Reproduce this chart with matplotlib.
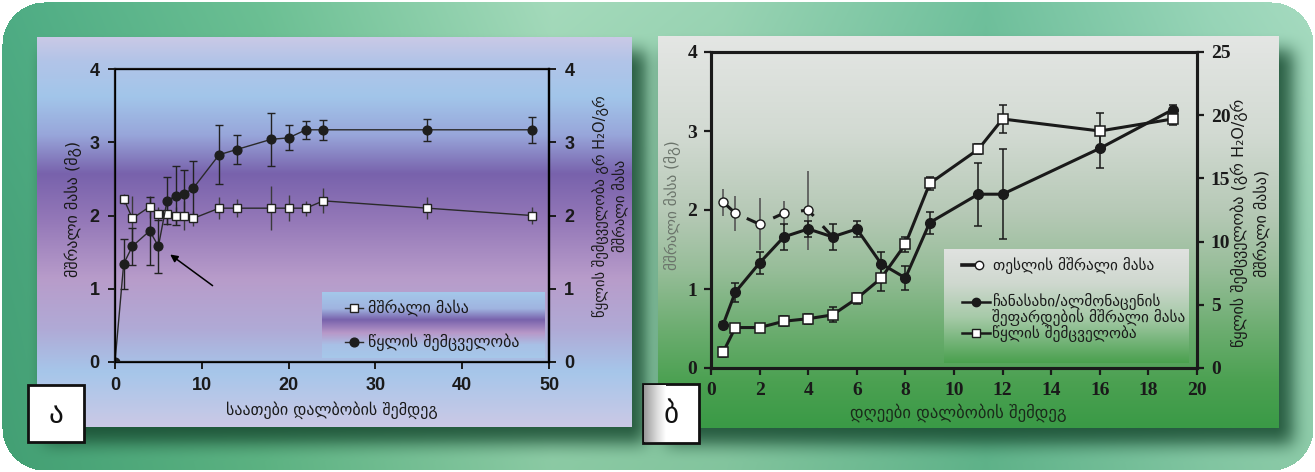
import numpy as np
import matplotlib
matplotlib.use("Agg")
import matplotlib.pyplot as plt
from matplotlib.colors import to_rgb
from matplotlib.patches import Rectangle

# ---------------- data ----------------
# panel ა (hours after imbibition)
a_dry_x = [1, 2, 4, 5, 6, 7, 8, 9, 12, 14, 18, 20, 22, 24, 36, 48]
a_dry_y = [2.23, 1.96, 2.12, 2.02, 2.02, 2.00, 2.00, 1.96, 2.10, 2.10, 2.10, 2.10, 2.10, 2.20, 2.10, 2.00]
a_dry_err = [0.07, 0.30, 0.15, 0.10, 0.15, 0.12, 0.20, 0.10, 0.15, 0.12, 0.30, 0.18, 0.10, 0.17, 0.15, 0.12]
a_wat_x = [0, 1, 2, 4, 5, 6, 7, 8, 9, 12, 14, 18, 20, 22, 24, 36, 48]
a_wat_y = [0, 1.34, 1.58, 1.79, 1.58, 2.20, 2.27, 2.30, 2.37, 2.83, 2.90, 3.04, 3.06, 3.17, 3.17, 3.17, 3.17]
a_wat_err = [0, 0.34, 0.25, 0.46, 0.36, 0.32, 0.40, 0.32, 0.37, 0.40, 0.20, 0.36, 0.17, 0.12, 0.14, 0.15, 0.18]
a_xticks = [0, 10, 20, 30, 40, 50]
a_yticks = [0, 1, 2, 3, 4]

# panel ბ (days after imbibition)
b_seed_x = [0.5, 1, 2, 3, 4, 5]
b_seed_y = [2.10, 1.96, 1.82, 1.96, 2.00, 1.66]
b_seed_err = [0.17, 0.22, 0.33, 0.16, 0.50, 0.0]
b_x = [0.5, 1, 2, 3, 4, 5, 6, 7, 8, 9, 11, 12, 16, 19]
b_ratio_y = [0.55, 0.96, 1.33, 1.66, 1.76, 1.66, 1.76, 1.32, 1.14, 1.84, 2.20, 2.20, 2.78, 3.27]
b_ratio_err = [0.03, 0.12, 0.14, 0.16, 0.10, 0.16, 0.10, 0.15, 0.15, 0.14, 0.40, 0.57, 0.25, 0.06]
b_wat_y = [1.25, 3.2, 3.2, 3.7, 3.9, 4.2, 5.5, 7.1, 9.8, 14.6, 17.3, 19.7, 18.75, 19.7]
b_wat_err = [0.4, 0.2, 0.2, 0.4, 0.4, 0.6, 0.45, 1.0, 0.6, 0.5, 0.4, 1.1, 1.4, 0.5]
b_xticks = list(range(0, 21, 2))
b_yticks = [0, 1, 2, 3, 4]
b_y2ticks = [0, 5, 10, 15, 20, 25]

# text
a_ylabel = "მშრალი მასა (მგ)"
a_y2label = "წყლის შემცველობა გრ H₂O/გრ\nმშრალი მასა"
a_xlabel = "საათები დალბობის შემდეგ"
a_leg = ["მშრალი მასა", "წყლის შემცველობა"]
b_ylabel = "მშრალი მასა (მგ)"
b_y2label = "წყლის შემცველობა (გრ H₂O/გრ\nმშრალი მასა)"
b_xlabel = "დღეები დალბობის შემდეგ"
b_leg = ["თესლის მშრალი მასა", "ჩანასახი/ალმონაცენის", "შეფარდების მშრალი მასა", "წყლის შემცველობა"]

W, H = 1315, 472
GEO = ['DejaVu Sans']

fig = plt.figure(figsize=(W / 100, H / 100), dpi=100)
fig.patch.set_facecolor('white')


def fx(px):
    return px / W


def fy(py):
    return 1 - py / H


def grad(stops, n):
    pos = [p for p, _ in stops]
    cols = np.array([to_rgb(c) for _, c in stops])
    t = np.linspace(0, 1, n)
    return np.stack([np.interp(t, pos, cols[:, i]) for i in range(3)], axis=-1)


def box_blur(a, r):
    k = 2 * r + 1
    p = np.pad(a, ((r + 1, r), (0, 0)), mode='edge')
    c = np.cumsum(p, axis=0)
    a = (c[k:] - c[:-k]) / k
    p = np.pad(a, ((0, 0), (r + 1, r)), mode='edge')
    c = np.cumsum(p, axis=1)
    return (c[:, k:] - c[:, :-k]) / k


# ---------------- outer background ----------------
hx = grad([(0, '#4eac84'), (0.2, '#6cc094'), (0.42, '#a4dabb'), (0.55, '#9ad4b4'),
           (0.75, '#6fc09c'), (0.92, '#98d5b8'), (1, '#a6dbc0')], W)
vy = grad([(0, '#ffffff'), (0.5, '#e8f2ec'), (1, '#d8ecdf')], H)
base = hx[None, :, :] * vy[:, None, :]
mask = np.zeros((H, W))
for (x0, x1, y0, y1) in [(37, 632, 37, 427), (658, 1279, 36, 428)]:
    mask[y0 + 14:y1 + 16, x0 + 8:x1 + 14] = 1
mask = box_blur(box_blur(mask, 9), 9)
dark = np.array(to_rgb('#174a30'))
img = base * (1 - 0.85 * mask[..., None]) + dark * 0.85 * mask[..., None]
# rounded frame corners
yy, xx = np.mgrid[0:H, 0:W]
R = 42
inside = np.ones((H, W), bool)
for cx, cy, sx, sy in [(R + 2, R + 2, -1, -1), (W - R - 2, R + 2, 1, -1),
                       (R + 2, H - R - 2, -1, 1), (W - R - 2, H - R - 2, 1, 1)]:
    reg = ((xx - cx) * sx > 0) & ((yy - cy) * sy > 0)
    inside &= ~(reg & ((xx - cx) ** 2 + (yy - cy) ** 2 > R ** 2))
inside &= (xx >= 2) & (xx <= W - 3) & (yy >= 2) & (yy <= H - 3)
img[~inside] = 1.0
bg = fig.add_axes([0, 0, 1, 1], zorder=0)
bg.imshow(img, extent=(0, W, H, 0), aspect='auto', interpolation='bilinear')
bg.set_xlim(0, W)
bg.set_ylim(H, 0)
bg.axis('off')


def panel_bg(x0, x1, y0, y1, stops, z=1):
    axb = fig.add_axes([fx(x0), fy(y1), fx(x1 - x0), (y1 - y0) / H], zorder=z)
    g = grad(stops, 256)
    axb.imshow(g[:, None, :], extent=(0, 1, 0, 1), aspect='auto', interpolation='bilinear')
    axb.set_xlim(0, 1)
    axb.set_ylim(0, 1)
    axb.axis('off')
    return axb


panel_bg(37, 632, 37, 427, [(0, '#c9c9e6'), (0.06, '#b2c4e8'), (0.15, '#a2c6ea'),
                            (0.25, '#98a6da'), (0.35, '#7862ac'), (0.47, '#9478b8'),
                            (0.62, '#b89cca'), (0.75, '#b0aad6'), (0.86, '#a6c6ea'),
                            (1.0, '#cbc9e6')])
panel_bg(658, 1279, 36, 428, [(0, '#e4e6e4'), (0.25, '#d2dad2'), (0.45, '#b6c9b6'),
                              (0.6, '#96bd98'), (0.75, '#6cad70'), (0.88, '#4ca152'),
                              (1.0, '#3a9a46')])

# ---------------- panel ა ----------------
ax = fig.add_axes([fx(115), fy(362), fx(549 - 115), (362 - 69) / H], zorder=3)
ax.patch.set_alpha(0)
ax.set_xlim(0, 50)
ax.set_ylim(0, 4)
lc = '#2a2a2a'
ax.errorbar(a_dry_x, a_dry_y, yerr=a_dry_err, fmt='none', ecolor='#3a3a3a', elinewidth=1.0,
            capsize=0, zorder=2)
ax.errorbar(a_wat_x, a_wat_y, yerr=a_wat_err, fmt='none', ecolor='#222222', elinewidth=1.0,
            capsize=3, capthick=1.0, zorder=2)
ax.plot(a_dry_x, a_dry_y, '-', color=lc, lw=1.0, marker='s', ms=5.6, mfc='white',
        mec='#222222', mew=1.0, zorder=4)
ax.plot(a_wat_x, a_wat_y, '-', color=lc, lw=1.0, marker='o', ms=6.3, mfc='#1e1e1e',
        mec='#1e1e1e', zorder=5)
ax.annotate('', xy=(6.1, 1.49), xytext=(11.5, 1.02),
            arrowprops=dict(arrowstyle='-|>', color='black', lw=1.1, mutation_scale=11))
ax.set_xticks(a_xticks)
ax.set_yticks(a_yticks)
for s in ax.spines.values():
    s.set_linewidth(1.6)
    s.set_color('#1a1a1a')
ax.tick_params(direction='out', length=5, width=1.4, color='#1a1a1a', pad=6)
for lab in ax.get_xticklabels() + ax.get_yticklabels():
    lab.set_fontfamily('Liberation Sans')
    lab.set_fontweight('bold')
    lab.set_fontsize(13)
    lab.set_color('#1a1a1a')
ax2 = ax.twinx()
ax2.set_ylim(0, 4)
ax2.set_yticks(a_yticks)
ax2.spines['right'].set_linewidth(1.6)
ax2.tick_params(direction='out', length=5, width=1.4, color='#1a1a1a', pad=6)
for lab in ax2.get_yticklabels():
    lab.set_fontfamily('Liberation Sans')
    lab.set_fontweight('bold')
    lab.set_fontsize(13)
    lab.set_color('#1a1a1a')

# legend ა
la = panel_bg(322, 545, 292, 358, [(0, '#a4c8ea'), (0.25, '#a0b4e0'), (0.42, '#7862ac'),
                                  (0.62, '#b898c8'), (0.8, '#a8c0e6'), (1.0, '#a6c8ea')], z=4)
lg = fig.add_axes(la.get_position(), zorder=5)
lg.patch.set_alpha(0)
lg.set_xlim(322, 545)
lg.set_ylim(358, 292)
lg.axis('off')
lg.plot([345, 363], [308, 308], '-', color=lc, lw=1.0)
lg.plot([354], [308], marker='s', ms=5.6, mfc='white', mec='#222222', mew=1.0)
lg.plot([345, 363], [342, 342], '-', color=lc, lw=1.0)
lg.plot([354], [342], marker='o', ms=6.3, mfc='#1e1e1e', mec='#1e1e1e')
lg.text(368, 308, a_leg[0], family=GEO, fontsize=11.5, va='center', ha='left', color='#1a1a1a')
lg.text(368, 342, a_leg[1], family=GEO, fontsize=11.5, va='center', ha='left', color='#1a1a1a')

fig.text(fx(73), fy(209), a_ylabel, family=GEO, fontsize=11.5, rotation=90,
         ha='center', va='center', color='#1a1a1a')
fig.text(fx(610), fy(206), a_y2label, family=GEO, fontsize=10.5, rotation=90,
         ha='center', va='center', multialignment='center', color='#1a1a1a',
         linespacing=1.25)
fig.text(fx(332), fy(410), a_xlabel, family=GEO, fontsize=11.5, ha='center', va='center',
         color='#1a1a1a')

# panel label ა
fig.patches.append(Rectangle((fx(28), fy(442)), fx(56), (442 - 385) / H, transform=fig.transFigure,
                             facecolor='white', edgecolor='#111111', lw=2, zorder=6))
fig.text(fx(56), fy(415), "ა", family=GEO, fontsize=21, ha='center', va='center',
         color='#111111', zorder=7)

# ---------------- panel ბ ----------------
bx = fig.add_axes([fx(711), fy(368), fx(1197 - 711), (368 - 52) / H], zorder=3)
bx.patch.set_alpha(0)
bx.set_xlim(0, 20)
bx.set_ylim(0, 4)
bx2 = bx.twinx()
bx2.set_ylim(0, 25)
bx.errorbar(b_seed_x[:5], b_seed_y[:5], yerr=b_seed_err[:5], fmt='none', ecolor='#555555',
            elinewidth=1.2, capsize=0, zorder=2)
bx.errorbar(b_x, b_ratio_y, yerr=b_ratio_err, fmt='none', ecolor='#1a1a1a', elinewidth=1.1,
            capsize=3, capthick=1.1, zorder=2)
bx.plot(b_seed_x, b_seed_y, color='#1a1a1a', lw=2.2, ls=(0, (5, 4.5)), marker='o', ms=6.5,
        mfc='white', mec='#1a1a1a', mew=1.0, markevery=[0, 1, 2, 3, 4], zorder=3)
bx.plot(b_x, b_ratio_y, '-', color='#1a1a1a', lw=2.2, marker='o', ms=7, mfc='#1a1a1a',
        mec='#1a1a1a', zorder=5)
bx2.errorbar(b_x, b_wat_y, yerr=b_wat_err, fmt='none', ecolor='#1a1a1a', elinewidth=1.1,
             capsize=3, capthick=1.1, zorder=2)
bx2.plot(b_x, b_wat_y, '-', color='#1a1a1a', lw=2.2, marker='s', ms=6.5, mfc='white',
         mec='#1a1a1a', mew=1.1, zorder=4)
bx.set_xticks(b_xticks)
bx.set_yticks(b_yticks)
bx2.set_yticks(b_y2ticks)
for a in (bx, bx2):
    for s in a.spines.values():
        s.set_linewidth(2.2)
        s.set_color('#1a1a1a')
    a.tick_params(direction='out', length=5, width=1.6, color='#1a1a1a', pad=5)
for lab in bx.get_xticklabels() + bx.get_yticklabels() + bx2.get_yticklabels():
    lab.set_fontfamily('Liberation Serif')
    lab.set_fontweight('bold')
    lab.set_fontsize(14)
    lab.set_color('#1a1a1a')

# legend ბ
lb = panel_bg(944, 1189, 249, 363, [(0, '#e0e2e0'), (0.3, '#cfd8cf'), (0.6, '#a6caa8'),
                                   (0.85, '#6cb070'), (1.0, '#4aa04e')], z=4)
lg2 = fig.add_axes(lb.get_position(), zorder=5)
lg2.patch.set_alpha(0)
lg2.set_xlim(944, 1189)
lg2.set_ylim(363, 249)
lg2.axis('off')
lg2.plot([962, 976], [265, 265], '-', color='#1a1a1a', lw=2.6)
lg2.plot([979], [265], marker='o', ms=6, mfc='white', mec='#1a1a1a', mew=1.0)
lg2.plot([962, 990], [302, 302], '-', color='#1a1a1a', lw=1.8)
lg2.plot([976], [302], marker='o', ms=6, mfc='#1a1a1a', mec='#1a1a1a')
lg2.plot([962, 990], [333, 333], '-', color='#1a1a1a', lw=1.8)
lg2.plot([976], [333], marker='s', ms=6, mfc='white', mec='#1a1a1a', mew=1.0)
lg2.text(993, 265, b_leg[0], family=GEO, fontsize=11, va='center', ha='left', color='#1a1a1a')
lg2.text(992, 302, b_leg[1], family=GEO, fontsize=11, va='center', ha='left', color='#1a1a1a')
lg2.text(992, 318, b_leg[2], family=GEO, fontsize=11, va='center', ha='left', color='#1a1a1a')
lg2.text(992, 333, b_leg[3], family=GEO, fontsize=11, va='center', ha='left', color='#1a1a1a')

fig.text(fx(673), fy(205), b_ylabel, family=GEO, fontsize=11, rotation=90,
         ha='center', va='center', color='#6b746b')
fig.text(fx(1251), fy(223), b_y2label, family=GEO, fontsize=11.5, rotation=90,
         ha='center', va='center', multialignment='center', color='#1a1a1a',
         linespacing=1.45)
fig.text(fx(958), fy(413), b_xlabel, family=GEO, fontsize=12, ha='center', va='center',
         color='#1a2a1a')

# panel label ბ
fig.patches.append(Rectangle((fx(643), fy(443)), fx(56), (443 - 384) / H, transform=fig.transFigure,
                             facecolor='white', edgecolor='#111111', lw=2, zorder=6))
gb = fig.add_axes([fx(644), fy(442), fx(22), (442 - 385) / H], zorder=6.5)
gb.imshow(grad([(0, '#9a9a9a'), (0.6, '#dcdcdc'), (1, '#ffffff')], 64)[None, :, :],
          extent=(0, 1, 0, 1), aspect='auto')
gb.axis('off')
fig.text(fx(671), fy(415), "ბ", family=GEO, fontsize=21, ha='center', va='center',
         color='#111111', zorder=7)

fig.savefig('out.png', dpi=100, facecolor='white')
